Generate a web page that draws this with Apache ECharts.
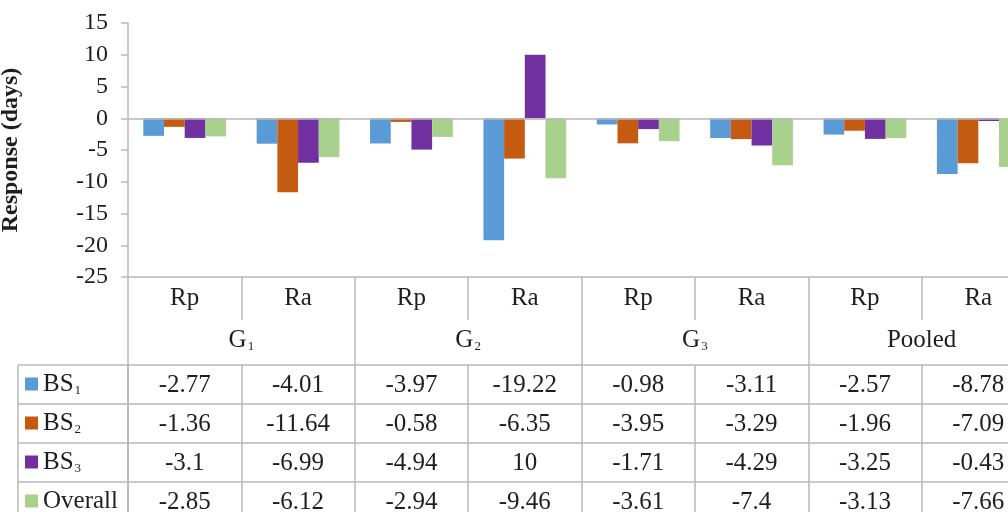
<!DOCTYPE html>
<html>
<head>
<meta charset="utf-8">
<script src="https://cdn.jsdelivr.net/npm/echarts@6/dist/echarts.min.js"></script>
<style>html,body{margin:0;padding:0;background:#fff}#c{width:1008px;height:512px}</style>
</head>
<body>
<div id="c"></div>
<script>
// ---- data ----
const categories = ['Rp', 'Ra', 'Rp', 'Ra', 'Rp', 'Ra', 'Rp', 'Ra'];
const groups = ['G1', 'G2', 'G3', 'Pooled'];
const seriesNames = ['BS1', 'BS2', 'BS3', 'Overall'];
const bs1 = [-2.77, -4.01, -3.97, -19.22, -0.98, -3.11, -2.57, -8.78];
const bs2 = [-1.36, -11.64, -0.58, -6.35, -3.95, -3.29, -1.96, -7.09];
const bs3 = [-3.1, -6.99, -4.94, 10, -1.71, -4.29, -3.25, -0.43];
const overall = [-2.85, -6.12, -2.94, -9.46, -3.61, -7.4, -3.13, -7.66];
const yTicks = { min: -25, max: 15, interval: 5 };

const seriesValues = [bs1, bs2, bs3, overall];
const colors = ['#5b9bd5', '#c55a11', '#7030a0', '#a9d18e'];
const FONT = '"Liberation Serif", "DejaVu Serif", serif';
const TXT = '#1e1e1e';
const LINE = '#b8b8b8';
const TFS = 25;

function subFmt(name) {
  const m = /^([A-Za-z]+)(\d)$/.exec(name);
  return m ? m[1] + '{s|' + m[2] + '}' : name;
}
const richSub = {
  s: { fontSize: 13, fontFamily: FONT, color: TXT, verticalAlign: 'bottom', lineHeight: 26, padding: [0, 0, 0, 1] }
};

const HEADER1 = 43;   // Rp|Ra divider length
const HEADER_H = 88;  // header rows total height
const ROW_H = 39;

const xAxes = [
  {
    type: 'category', data: categories, position: 'bottom',
    axisLine: { show: true, onZero: false, lineStyle: { color: LINE, width: 1.5 } },
    axisTick: { show: true, interval: 0, length: HEADER1, lineStyle: { color: LINE, width: 1.5 } },
    axisLabel: { interval: 0, margin: 21, verticalAlign: 'middle', fontFamily: FONT, fontSize: TFS, color: TXT },
    splitLine: { show: false }
  },
  {
    type: 'category', data: groups, position: 'bottom',
    axisLine: { show: false, onZero: false },
    axisTick: { show: true, interval: 0, length: HEADER_H, lineStyle: { color: LINE, width: 1.5 } },
    axisLabel: { interval: 0, margin: 63, verticalAlign: 'middle', fontFamily: FONT, fontSize: TFS, color: TXT,
      formatter: v => subFmt(v), rich: richSub },
    splitLine: { show: false }
  }
];
seriesValues.forEach((vals, i) => {
  xAxes.push({
    type: 'category', data: categories, position: 'bottom', offset: HEADER_H + ROW_H * i,
    axisLine: { show: true, onZero: false, lineStyle: { color: LINE, width: 1.5 } },
    axisTick: { show: true, interval: 0, length: ROW_H, lineStyle: { color: LINE, width: 1.5 } },
    axisLabel: { interval: 0, margin: 20, verticalAlign: 'middle', fontFamily: FONT, fontSize: TFS, color: TXT,
      formatter: (v, idx) => String(vals[idx]) },
    splitLine: { show: false }
  });
});

const series = seriesValues.map((vals, i) => ({
  name: seriesNames[i], type: 'bar', xAxisIndex: 0, yAxisIndex: 0,
  data: vals, barGap: '0%', barCategoryGap: '27%',
  itemStyle: { color: colors[i] },
  markLine: i === 0 ? {
    silent: true, symbol: 'none', label: { show: false },
    lineStyle: { color: LINE, width: 1.5, type: 'solid' },
    data: [{ yAxis: 0 }]
  } : undefined
}));

// left column rules of the data table
const graphics = [];
[365, 404, 443, 482].forEach(y => {
  graphics.push({ type: 'line', shape: { x1: 18, y1: y, x2: 128, y2: y }, style: { stroke: LINE, lineWidth: 1.5 }, silent: true });
});
graphics.push({ type: 'line', shape: { x1: 18, y1: 365, x2: 18, y2: 512 }, style: { stroke: LINE, lineWidth: 1.5 }, silent: true });
graphics.push({ type: 'line', shape: { x1: 128, y1: 365, x2: 128, y2: 512 }, style: { stroke: LINE, lineWidth: 1.5 }, silent: true });

const chart = echarts.init(document.getElementById('c'), null, { renderer: 'canvas' });
chart.setOption({
  animation: false,
  backgroundColor: '#ffffff',
  grid: { left: 128, top: 23, width: 907, height: 254, containLabel: false, outerBoundsMode: 'none' },
  legend: {
    orient: 'vertical', left: 25, top: 371, height: 170, padding: 0, itemGap: 13,
    itemWidth: 13, itemHeight: 13, icon: 'rect', selectedMode: false,
    data: seriesNames,
    formatter: n => subFmt(n),
    textStyle: { fontFamily: FONT, fontSize: TFS, color: TXT, lineHeight: 26, rich: richSub }
  },
  xAxis: xAxes,
  yAxis: {
    type: 'value', min: yTicks.min, max: yTicks.max, interval: yTicks.interval,
    name: 'Response (days)', nameLocation: 'middle', nameGap: 105, nameRotate: 90,
    nameTextStyle: { fontFamily: FONT, fontSize: 24, fontWeight: 'bold', color: TXT },
    axisLine: { show: true, lineStyle: { color: LINE, width: 1.5 } },
    axisTick: { show: true, length: 7, lineStyle: { color: LINE, width: 1.5 } },
    axisLabel: { margin: 20, fontFamily: FONT, fontSize: 24, color: TXT },
    splitLine: { show: false }
  },
  series: series,
  graphic: graphics
});
</script>
</body>
</html>
